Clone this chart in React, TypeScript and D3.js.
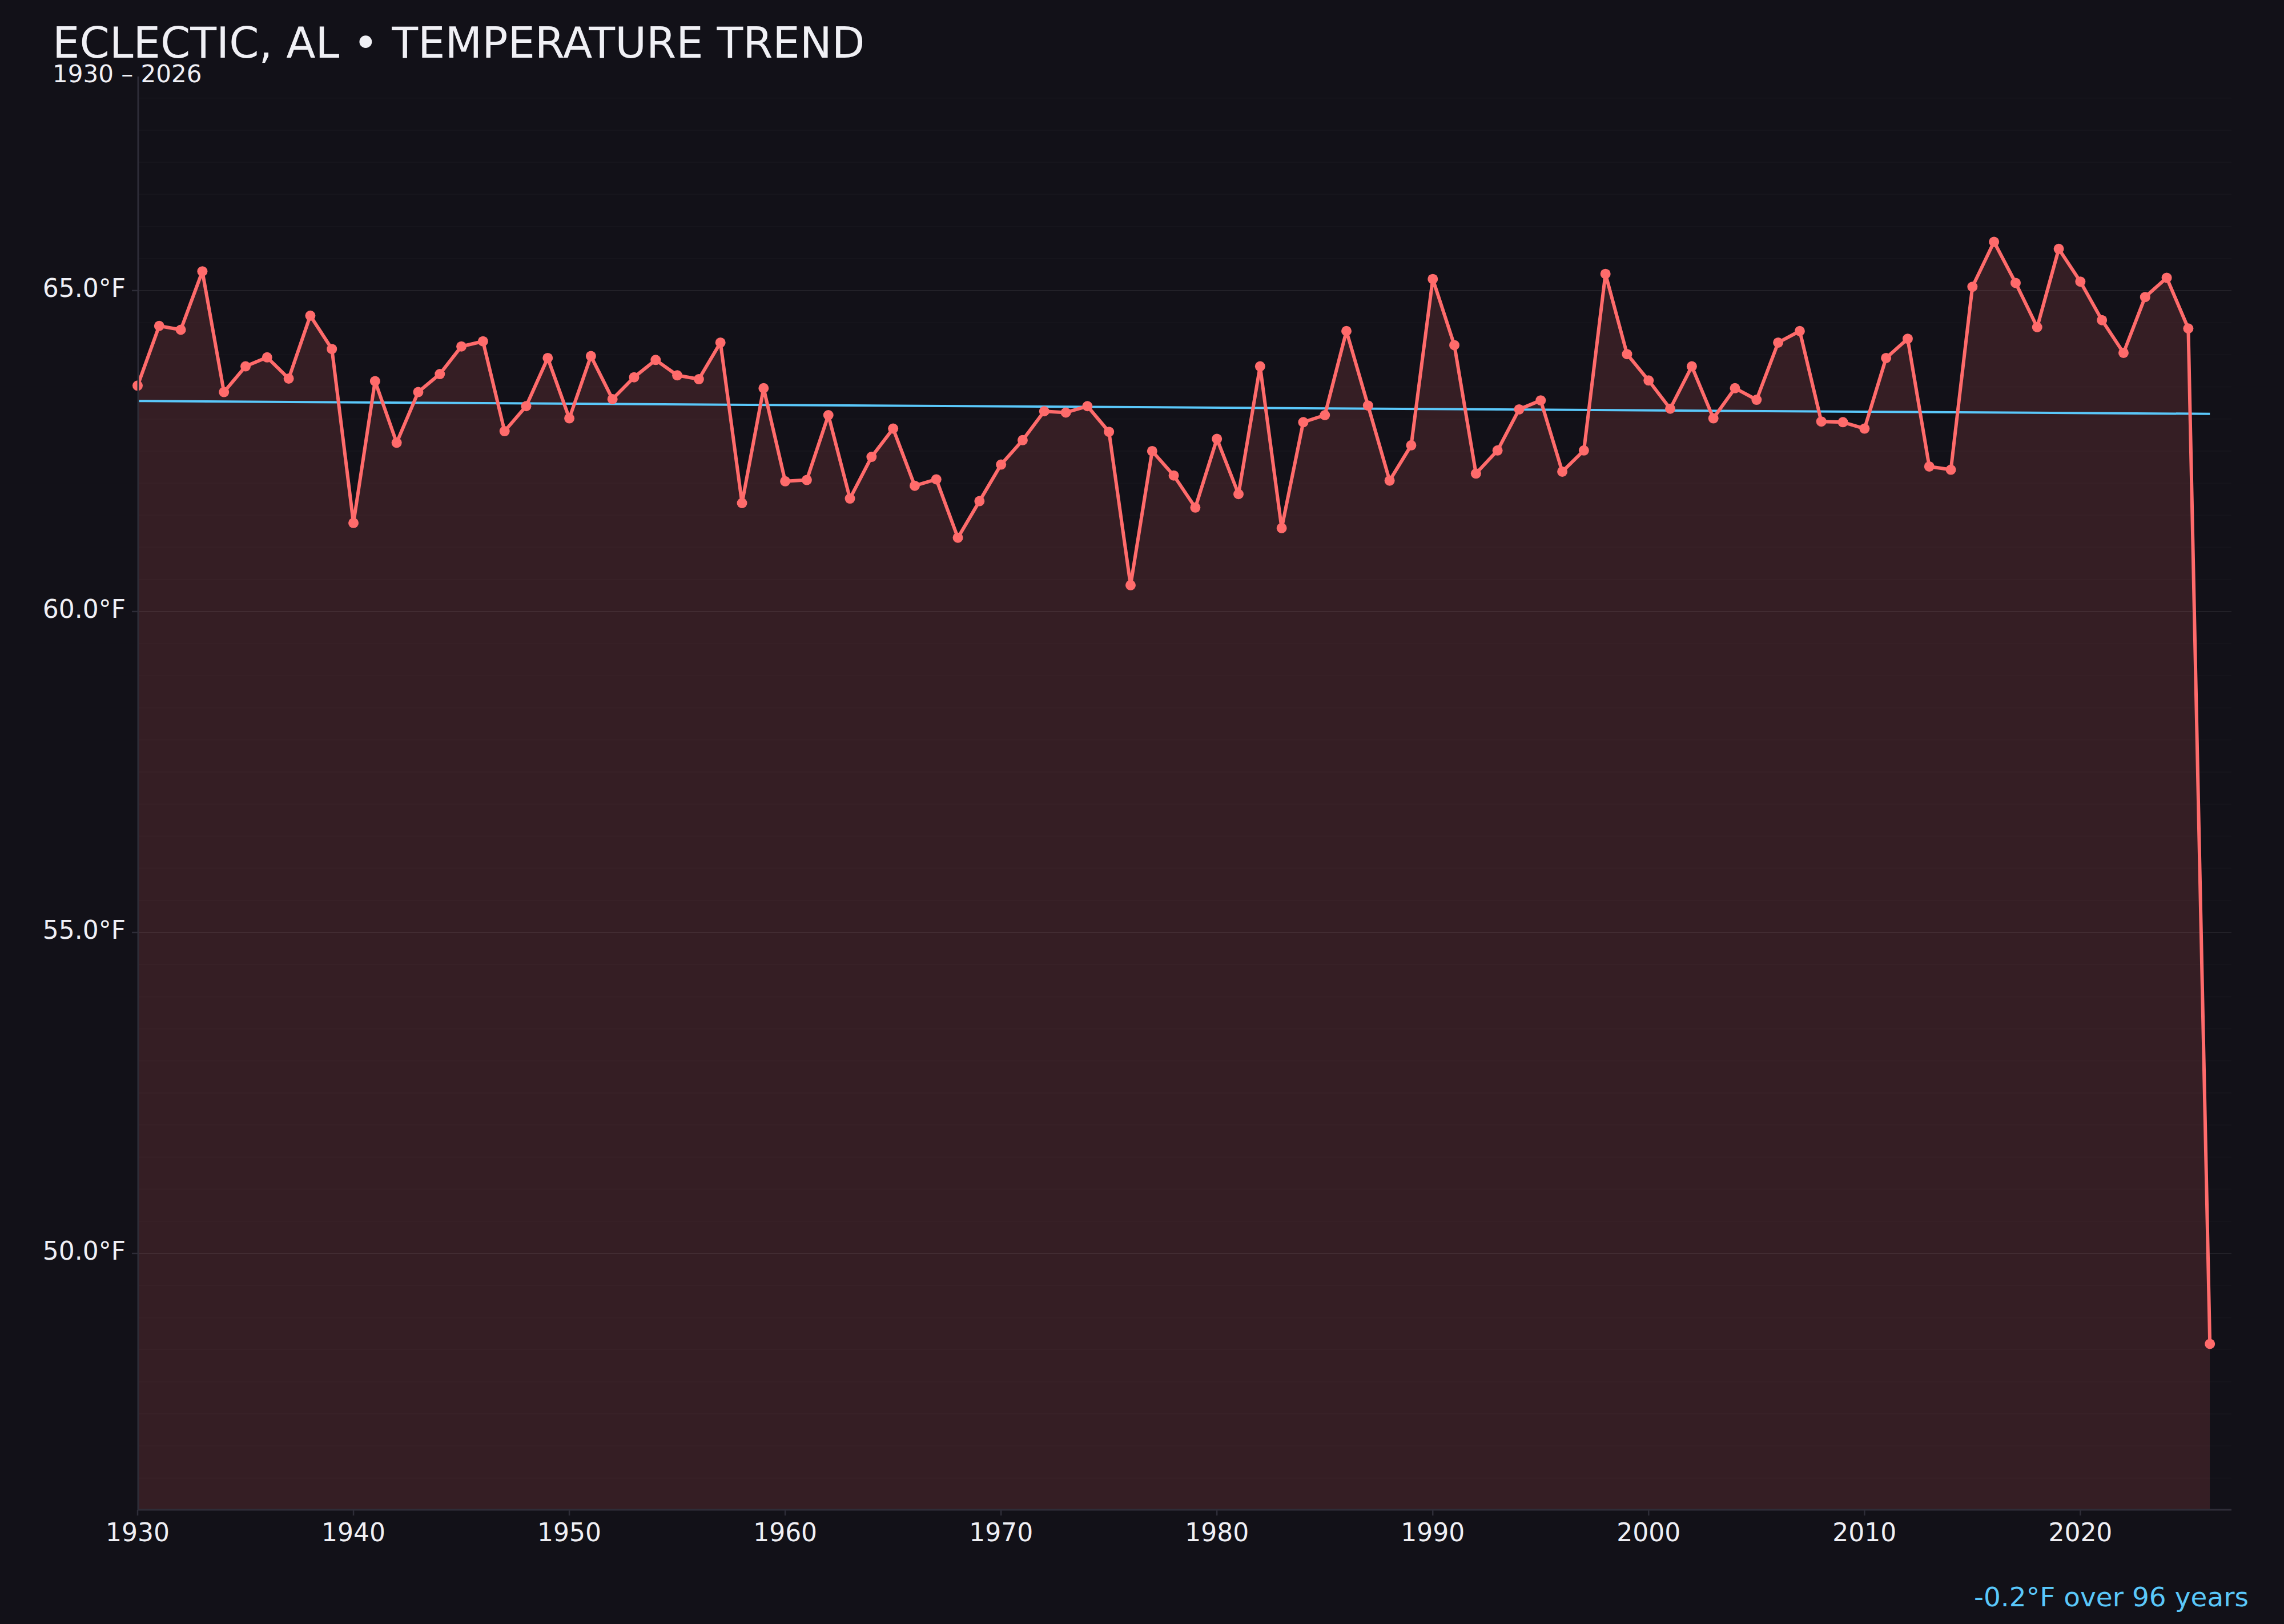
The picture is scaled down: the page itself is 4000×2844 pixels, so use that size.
import React, { useEffect } from 'react'
import * as d3 from 'd3'

// annual mean temperature, Eclectic AL
const years = d3.range(1930, 2027)
const temps = [
    63.52, 64.45, 64.39, 65.3, 63.42, 63.82, 63.96, 63.63, 64.61, 64.09,
    61.38, 63.59, 62.63, 63.42, 63.7, 64.13, 64.21, 62.81, 63.2, 63.95,
    63.01, 63.98, 63.31, 63.65, 63.92, 63.68, 63.62, 64.19, 61.69, 63.48,
    62.03, 62.05, 63.06, 61.76, 62.41, 62.85, 61.96, 62.06, 61.15, 61.72,
    62.29, 62.67, 63.12, 63.1, 63.2, 62.8, 60.41, 62.5, 62.12, 61.62,
    62.69, 61.83, 63.82, 61.3, 62.95, 63.06, 64.37, 63.21, 62.04, 62.59,
    65.18, 64.15, 62.15, 62.51, 63.15, 63.29, 62.18, 62.51, 65.26, 64.01,
    63.6, 63.16, 63.82, 63.01, 63.48, 63.3, 64.19, 64.37, 62.96, 62.95,
    62.85, 63.95, 64.25, 62.26, 62.21, 65.06, 65.76, 65.12, 64.43, 65.65,
    65.14, 64.54, 64.03, 64.9, 65.2, 64.41, 48.59,
]
// trend line end values (first and last year)
const trendYears = [1930, 2026]
const trendValues = [63.28, 63.08]

const xTicks = [1930, 1940, 1950, 1960, 1970, 1980, 1990, 2000, 2010, 2020]
const yTicks = [50, 55, 60, 65]

const title = 'ECLECTIC, AL • TEMPERATURE TREND'
const subtitle = '1930 – 2026'
const note = '-0.2°F over 96 years'

const W = 4000
const H = 2844
const BG = '#121118'
const TEXT = '#f0f0f5'
const LINE = '#ff6b6b'
const TREND = '#5ac8fa'
const AXIS = '#2e2d38'
const FONT = '"DejaVu Sans", Verdana, sans-serif'

export default function App() {
    useEffect(() => {
        document.body.style.margin = '0'
        document.body.style.background = BG
    }, [])

    const left = 241
    const right = 3908
    const top = 134
    const bottom = 2643

    const x = d3.scaleLinear().domain([1930, 2027]).range([left, right])

    const lo = d3.min(temps)!
    const hi = d3.max(temps)!
    const pad = (hi - lo) * 0.15
    const y = d3.scaleLinear().domain([lo - pad, hi + pad]).range([bottom, top])

    const pts = years.map((yr, i) => ({ yr, v: temps[i] }))

    const line = d3
        .line<{ yr: number; v: number }>()
        .x((d) => x(d.yr))
        .y((d) => y(d.v))

    const area = d3
        .area<{ yr: number; v: number }>()
        .x((d) => x(d.yr))
        .y0(bottom)
        .y1((d) => y(d.v))

    // faint grid every half degree
    const minorGrid = d3.range(Math.ceil((lo - pad) * 2) / 2, hi + pad, 0.5)

    return (
        <svg width={W} height={H} style={{ display: 'block', background: BG }} fontFamily={FONT}>
            <rect width={W} height={H} fill={BG} />

            {minorGrid.map((g) => (
                <line
                    key={'m' + g}
                    x1={left}
                    x2={right}
                    y1={y(g)}
                    y2={y(g)}
                    stroke="#ffffff"
                    strokeOpacity={yTicks.includes(g) ? 0.07 : 0.02}
                    strokeWidth={2}
                />
            ))}

            <path d={area(pts)!} fill={LINE} fillOpacity={0.15} />

            <line
                x1={x(trendYears[0])}
                x2={x(trendYears[1])}
                y1={y(trendValues[0])}
                y2={y(trendValues[1])}
                stroke={TREND}
                strokeWidth={4}
            />

            <path
                d={line(pts)!}
                fill="none"
                stroke={LINE}
                strokeWidth={6}
                strokeLinejoin="round"
            />
            {pts.map((d) => (
                <circle key={d.yr} cx={x(d.yr)} cy={y(d.v)} r={9} fill={LINE} />
            ))}

            {/* axes */}
            <line x1={left + 1} x2={left + 1} y1={top} y2={bottom + 1} stroke={AXIS} strokeWidth={3} />
            <line x1={left} x2={right} y1={bottom + 1} y2={bottom + 1} stroke={AXIS} strokeWidth={3} />

            {xTicks.map((t) => (
                <g key={t} transform={`translate(${x(t)},${bottom + 1})`}>
                    <line y1={0} y2={10} stroke={AXIS} strokeWidth={2.5} />
                    <text y={55} textAnchor="middle" fontSize={44} fill={TEXT}>
                        {t}
                    </text>
                </g>
            ))}

            {yTicks.map((t) => (
                <g key={t} transform={`translate(${left},${y(t)})`}>
                    <line x1={-10} x2={0} stroke={AXIS} strokeWidth={2.5} />
                    <text x={-21} y={11} textAnchor="end" fontSize={44} fill={TEXT}>
                        {t.toFixed(1)}°F
                    </text>
                </g>
            ))}

            <text x={92} y={101} fontSize={75} fill={TEXT}>
                {title}
            </text>
            <text x={92} y={144} fontSize={42} fill={TEXT}>
                {subtitle}
            </text>
            <text x={3938} y={2813} fontSize={47} fill={TREND} textAnchor="end">
                {note}
            </text>
        </svg>
    )
}
